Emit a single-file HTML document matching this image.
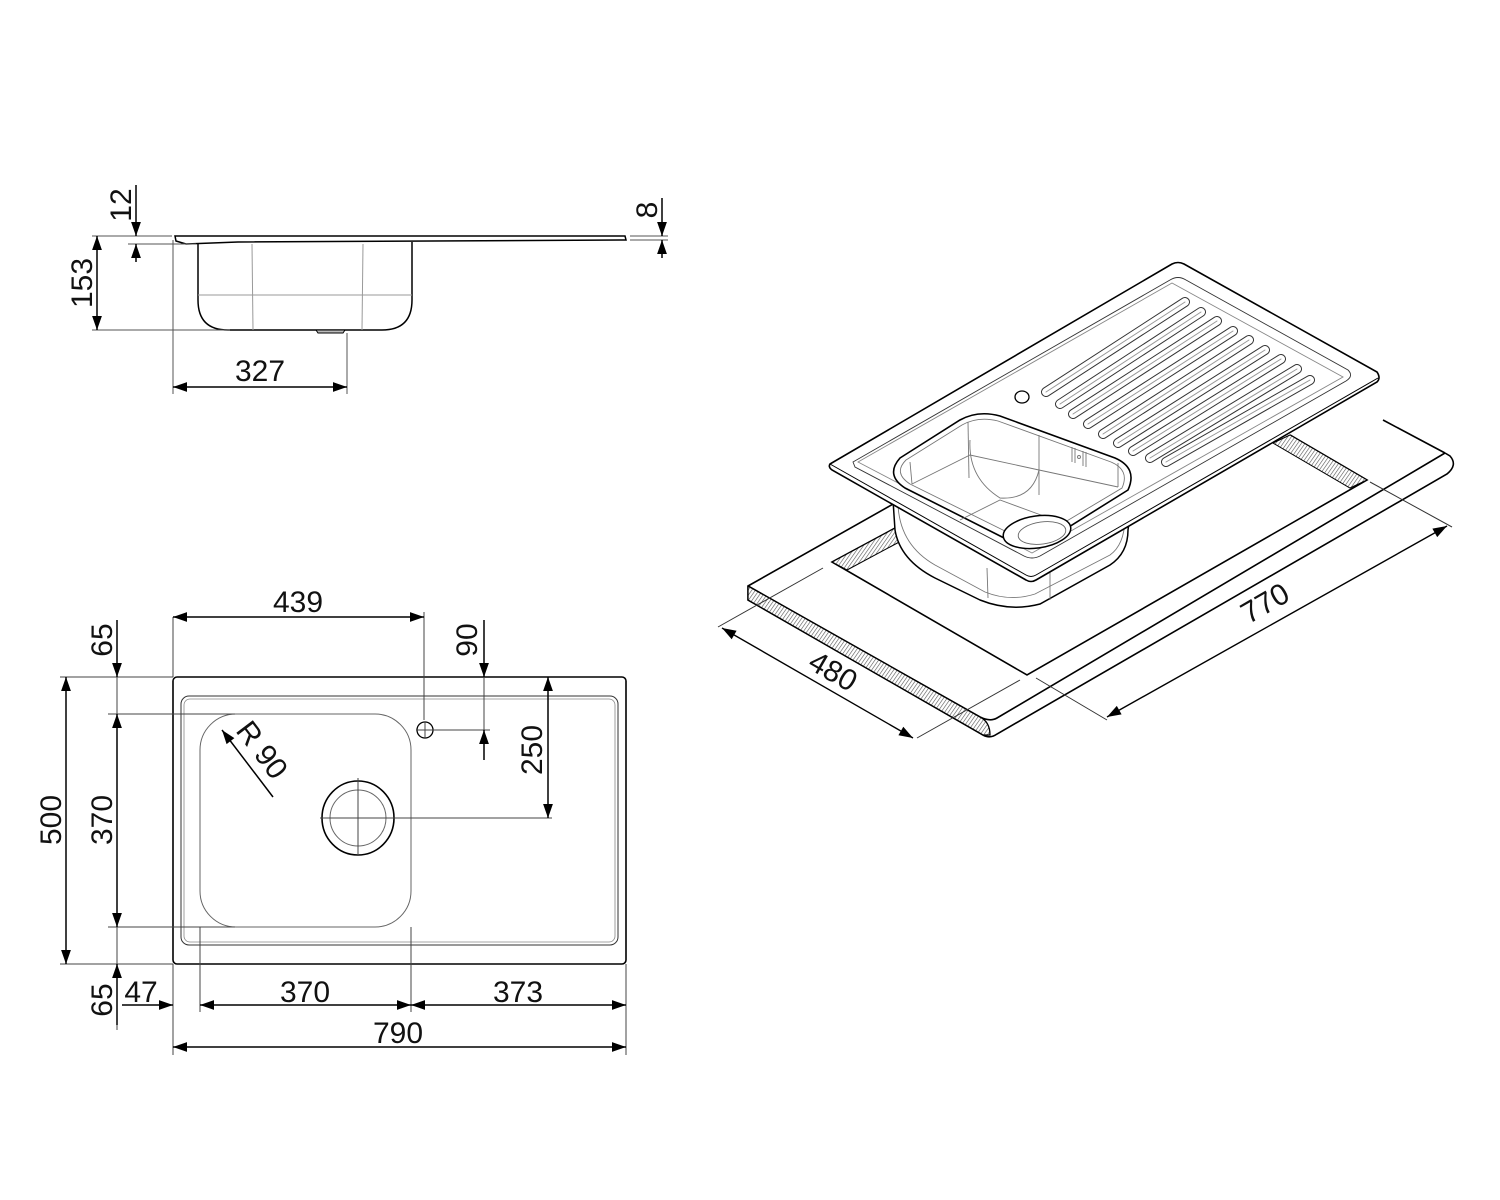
<!DOCTYPE html>
<html><head><meta charset="utf-8"><style>
html,body{margin:0;padding:0;background:#fff;}
svg{display:block;}
text{font-family:"Liberation Sans",Arial,sans-serif;font-size:30px;fill:#111;}
</style></head><body>
<svg width="1500" height="1200" viewBox="0 0 1500 1200" xmlns="http://www.w3.org/2000/svg">
<defs>
<marker id="b" viewBox="0 0 10 10" refX="10" refY="5" markerWidth="16" markerHeight="14" markerUnits="userSpaceOnUse" orient="auto-start-reverse">
<path d="M0,1.5 L10,5 L0,8.5 Z" fill="#000"/></marker>
<pattern id="h" width="3" height="3" patternUnits="userSpaceOnUse" patternTransform="rotate(35)">
<rect width="3" height="3" fill="#fff"/><line x1="0" y1="0" x2="0" y2="3" stroke="#555" stroke-width="1.2"/></pattern>
</defs>

<!-- ========== SIDE VIEW ========== -->
<g fill="none" stroke="#000" stroke-width="1.5">
<path d="M175,236 L625,236 L626,240 L620,240 L238,242 L186,244 L176,241 Z" stroke-width="1.5"/>
<path d="M198,244 L198,300 Q198,330 228,330 L382,330 Q412,330 412,300 L412,242"/>
<path d="M316,330 L345,330 L343,333 L318,333 Z" fill="#bbb" stroke-width="1"/>
</g>
<g stroke="#999" stroke-width="1" fill="none">
<line x1="252" y1="244" x2="253" y2="330"/><line x1="363" y1="244" x2="362" y2="330"/>
<line x1="198" y1="295" x2="412" y2="295"/>
</g>
<g stroke="#555" stroke-width="1" fill="none">
<line x1="92" y1="236" x2="172" y2="236"/><line x1="128" y1="244" x2="196" y2="244"/>
<line x1="92" y1="330" x2="230" y2="330"/>
<line x1="173" y1="240" x2="173" y2="394"/><line x1="347" y1="333" x2="347" y2="394"/>
<line x1="630" y1="236" x2="668" y2="236"/><line x1="630" y1="240" x2="668" y2="240"/>
</g>
<g stroke="#000" stroke-width="1.5" fill="none">
<line x1="136" y1="185" x2="136" y2="236" marker-end="url(#b)"/>
<line x1="136" y1="262" x2="136" y2="244" marker-end="url(#b)"/>
<line x1="97" y1="236" x2="97" y2="330" marker-start="url(#b)" marker-end="url(#b)"/>
<line x1="173" y1="387" x2="347" y2="387" marker-start="url(#b)" marker-end="url(#b)"/>
<line x1="662" y1="198" x2="662" y2="236" marker-end="url(#b)"/>
<line x1="662" y1="258" x2="662" y2="240" marker-end="url(#b)"/>
</g>
<text transform="translate(131,205) rotate(-90)" text-anchor="middle">12</text>
<text transform="translate(92,283) rotate(-90)" text-anchor="middle">153</text>
<text x="260" y="381" text-anchor="middle">327</text>
<text transform="translate(657,210) rotate(-90)" text-anchor="middle">8</text>

<!-- ========== PLAN VIEW ========== -->
<g fill="none" stroke="#000">
<rect x="173" y="677" width="453" height="287" rx="4" stroke-width="1.6"/>
<rect x="181" y="696" width="437" height="249" rx="8" stroke-width="1" stroke="#333"/>
<rect x="184" y="699" width="431" height="243" rx="6" stroke-width="0.8" stroke="#888"/>
<rect x="200" y="714" width="211" height="213" rx="36" stroke-width="1" stroke="#666"/>
<circle cx="425" cy="730" r="8" stroke-width="1.3"/>
<ellipse cx="358" cy="818" rx="36" ry="37" stroke-width="1.6"/>
<circle cx="358" cy="818" r="28" stroke-width="1" stroke="#666"/>
</g>
<g stroke="#444" stroke-width="1" fill="none">
<line x1="320" y1="818" x2="552" y2="818"/><line x1="358" y1="778" x2="358" y2="856"/>
<line x1="416" y1="730" x2="434" y2="730"/><line x1="425" y1="722" x2="425" y2="738"/>
<line x1="434" y1="730" x2="490" y2="730"/>
<line x1="424" y1="612" x2="424" y2="720"/>
<line x1="60" y1="677" x2="173" y2="677"/><line x1="60" y1="964" x2="173" y2="964"/>
<line x1="108" y1="714" x2="235" y2="714"/><line x1="108" y1="927" x2="235" y2="927"/>
<line x1="173" y1="617" x2="173" y2="677"/>
<line x1="173" y1="964" x2="173" y2="1055"/><line x1="626" y1="964" x2="626" y2="1055"/>
<line x1="200" y1="927" x2="200" y2="1012"/><line x1="411" y1="927" x2="411" y2="1012"/>
<line x1="117" y1="620" x2="117" y2="1030"/>
<line x1="484" y1="620" x2="484" y2="760"/>
</g>
<g stroke="#000" stroke-width="1.5" fill="none">
<line x1="173" y1="617" x2="424" y2="617" marker-start="url(#b)" marker-end="url(#b)"/>
<line x1="484" y1="620" x2="484" y2="677" marker-end="url(#b)"/>
<line x1="484" y1="760" x2="484" y2="730" marker-end="url(#b)"/>
<line x1="548" y1="677" x2="548" y2="818" marker-start="url(#b)" marker-end="url(#b)"/>
<line x1="66" y1="677" x2="66" y2="964" marker-start="url(#b)" marker-end="url(#b)"/>
<line x1="117" y1="620" x2="117" y2="677" marker-end="url(#b)"/>
<line x1="117" y1="714" x2="117" y2="927" marker-start="url(#b)" marker-end="url(#b)"/>
<line x1="117" y1="1025" x2="117" y2="964" marker-end="url(#b)"/>
<line x1="122" y1="1005" x2="173" y2="1005" marker-end="url(#b)"/>
<line x1="200" y1="1005" x2="411" y2="1005" marker-start="url(#b)" marker-end="url(#b)"/>
<line x1="411" y1="1005" x2="626" y2="1005" marker-start="url(#b)" marker-end="url(#b)"/>
<line x1="173" y1="1047" x2="626" y2="1047" marker-start="url(#b)" marker-end="url(#b)"/>
<line x1="273" y1="797" x2="222" y2="730" marker-end="url(#b)"/>
</g>
<text x="298" y="612" text-anchor="middle">439</text>
<text transform="translate(477,640) rotate(-90)" text-anchor="middle">90</text>
<text transform="translate(542,750) rotate(-90)" text-anchor="middle">250</text>
<text transform="translate(61,820) rotate(-90)" text-anchor="middle">500</text>
<text transform="translate(112,820) rotate(-90)" text-anchor="middle">370</text>
<text transform="translate(112,640) rotate(-90)" text-anchor="middle">65</text>
<text transform="translate(112,1000) rotate(-90)" text-anchor="middle">65</text>
<text transform="translate(254,756) rotate(53)" text-anchor="middle">R 90</text>
<text x="141" y="1002" text-anchor="middle">47</text>
<text x="305" y="1002" text-anchor="middle">370</text>
<text x="518" y="1002" text-anchor="middle">373</text>
<text x="398" y="1043" text-anchor="middle">790</text>

<!-- ========== ISOMETRIC ========== -->
<g stroke="#000" stroke-width="1.6" fill="none">
<path d="M748,586 L980,717 Q990,722 997,718 L1445,453" fill="#fff"/>
<path d="M748,586 L748,600 L983,735 Q990,739 997,734 L1447,474 Q1458,465 1450,456 L1445,453"/>
<path d="M748,586 L980,717 Q990,722 990,735 L983,735 L748,600 Z" fill="url(#h)" stroke-width="1.3"/>
<path d="M1445,453 L1383,420"/>
<path d="M748,586 L895,503"/>
<path d="M897,527 L832,562 L1027,675 L1367,480 L1290,435"/>
<path d="M832,562 L897,527 L903,540 L847,570 Z" fill="url(#h)" stroke-width="1"/>
<path d="M1290,435 L1367,480 L1350,488 L1273,443 Z" fill="url(#h)" stroke-width="1"/>
</g>
<g stroke="#000" stroke-width="1.5" fill="#fff">
<path d="M893,500 L895,530 Q900,560 935,578 L980,600 Q1010,612 1040,604 L1110,565 Q1128,553 1128,530 L1130,515 Z"/>
</g>
<g stroke="#777" stroke-width="0.9" fill="none">
<path d="M898,505 Q900,545 935,565 L985,592 Q1010,602 1035,594 L1110,555 Q1124,545 1125,520"/>
<line x1="987" y1="568" x2="988" y2="598"/><line x1="1050" y1="570" x2="1050" y2="600"/>
</g>
<g stroke="#000" stroke-width="1.6">
<path d="M830,464 L1172,264 Q1178,261 1184,264 L1377,372 Q1381,378 1377,382 L1036,580 Q1031,583 1026,580 L832,470 Q828,467 830,464 Z" fill="#fff"/>
<path d="M830,464 L1026,575 Q1031,578 1036,575 L1378,378" fill="none" stroke-width="1"/>
</g>
<g stroke="#333" stroke-width="0.9" fill="none">
<path d="M853,462 L1170,280 Q1178,275 1186,280 L1348,370 Q1354,376 1346,381 L1040,556 Q1032,560 1024,556 L855,467 Z"/>
<path d="M858,462 L1172,283 L1343,377 L1032,553 Z" stroke="#888"/>
</g>
<!-- bowl opening -->
<path d="M900,458 L960,420 Q978,410 1000,416 L1115,458 Q1138,468 1128,490 L1048,540 Q1030,550 1012,542 L905,488 Q885,475 900,458 Z" fill="#fff" stroke="#000" stroke-width="1.6"/>
<g stroke="#777" stroke-width="0.9" fill="none">
<path d="M906,460 L962,425 Q978,416 998,421 L1111,462 Q1130,470 1122,488 L1045,534 Q1030,543 1015,536 L910,484 Q893,473 906,460 Z"/>
<line x1="910" y1="462" x2="912" y2="484"/><line x1="968" y1="422" x2="969" y2="478"/>
<line x1="1039" y1="435" x2="1039" y2="495"/><line x1="1118" y1="463" x2="1118" y2="487"/>
<path d="M912,484 L970,455 L1039,470 L1118,487"/>
<path d="M970,440 Q968,478 1000,498 Q1032,500 1039,470"/>
<path d="M960,520 L1000,500 L1060,522"/>
<path d="M1072,447 L1072,462 M1075,448 L1075,463 M1083,451 L1083,466 M1086,452 L1086,467"/>
<circle cx="1079" cy="457" r="1.5"/>
</g>
<ellipse cx="1037" cy="532" rx="34" ry="16" transform="rotate(-8 1037 532)" fill="#fff" stroke="#000" stroke-width="1.5"/>
<ellipse cx="1042" cy="533" rx="24" ry="11" transform="rotate(-8 1042 533)" fill="none" stroke="#666" stroke-width="0.9"/>
<ellipse cx="1022" cy="397" rx="7" ry="6" fill="#fff" stroke="#000" stroke-width="1.3"/>
<!-- ribs -->
<g stroke-linecap="round" fill="none">
<g stroke="#333" stroke-width="10">
<line x1="1185" y1="302" x2="1046" y2="392"/>
<line x1="1201" y1="312" x2="1060" y2="404"/>
<line x1="1217" y1="321" x2="1073" y2="414"/>
<line x1="1233" y1="331" x2="1088" y2="424"/>
<line x1="1249" y1="340" x2="1103" y2="434"/>
<line x1="1265" y1="350" x2="1118" y2="443"/>
<line x1="1281" y1="359" x2="1133" y2="451"/>
<line x1="1297" y1="369" x2="1150" y2="458"/>
<line x1="1310" y1="380" x2="1166" y2="462"/>
</g>
<g stroke="#fff" stroke-width="8">
<line x1="1185" y1="302" x2="1046" y2="392"/>
<line x1="1201" y1="312" x2="1060" y2="404"/>
<line x1="1217" y1="321" x2="1073" y2="414"/>
<line x1="1233" y1="331" x2="1088" y2="424"/>
<line x1="1249" y1="340" x2="1103" y2="434"/>
<line x1="1265" y1="350" x2="1118" y2="443"/>
<line x1="1281" y1="359" x2="1133" y2="451"/>
<line x1="1297" y1="369" x2="1150" y2="458"/>
<line x1="1310" y1="380" x2="1166" y2="462"/>
</g>
<g stroke="#999" stroke-width="1">
<line x1="1185" y1="302" x2="1046" y2="392"/>
<line x1="1201" y1="312" x2="1060" y2="404"/>
<line x1="1217" y1="321" x2="1073" y2="414"/>
<line x1="1233" y1="331" x2="1088" y2="424"/>
<line x1="1249" y1="340" x2="1103" y2="434"/>
<line x1="1265" y1="350" x2="1118" y2="443"/>
<line x1="1281" y1="359" x2="1133" y2="451"/>
<line x1="1297" y1="369" x2="1150" y2="458"/>
<line x1="1310" y1="380" x2="1166" y2="462"/>
</g>
</g>
<g stroke="#333" stroke-width="1" fill="none">
<line x1="718" y1="627" x2="823" y2="568"/>
<line x1="917" y1="738" x2="1020" y2="680"/>
<line x1="1107" y1="720" x2="1036" y2="678"/>
<line x1="1452" y1="527" x2="1370" y2="482"/>
</g>
<g stroke="#000" stroke-width="1.4" fill="none">
<line x1="722" y1="628" x2="913" y2="738" marker-start="url(#b)" marker-end="url(#b)"/>
<line x1="1107" y1="717" x2="1447" y2="526" marker-start="url(#b)" marker-end="url(#b)"/>
</g>
<text transform="translate(828,680) rotate(30)" text-anchor="middle">480</text>
<text transform="translate(1270,612) rotate(-30)" text-anchor="middle">770</text>
</svg>
</body></html>
